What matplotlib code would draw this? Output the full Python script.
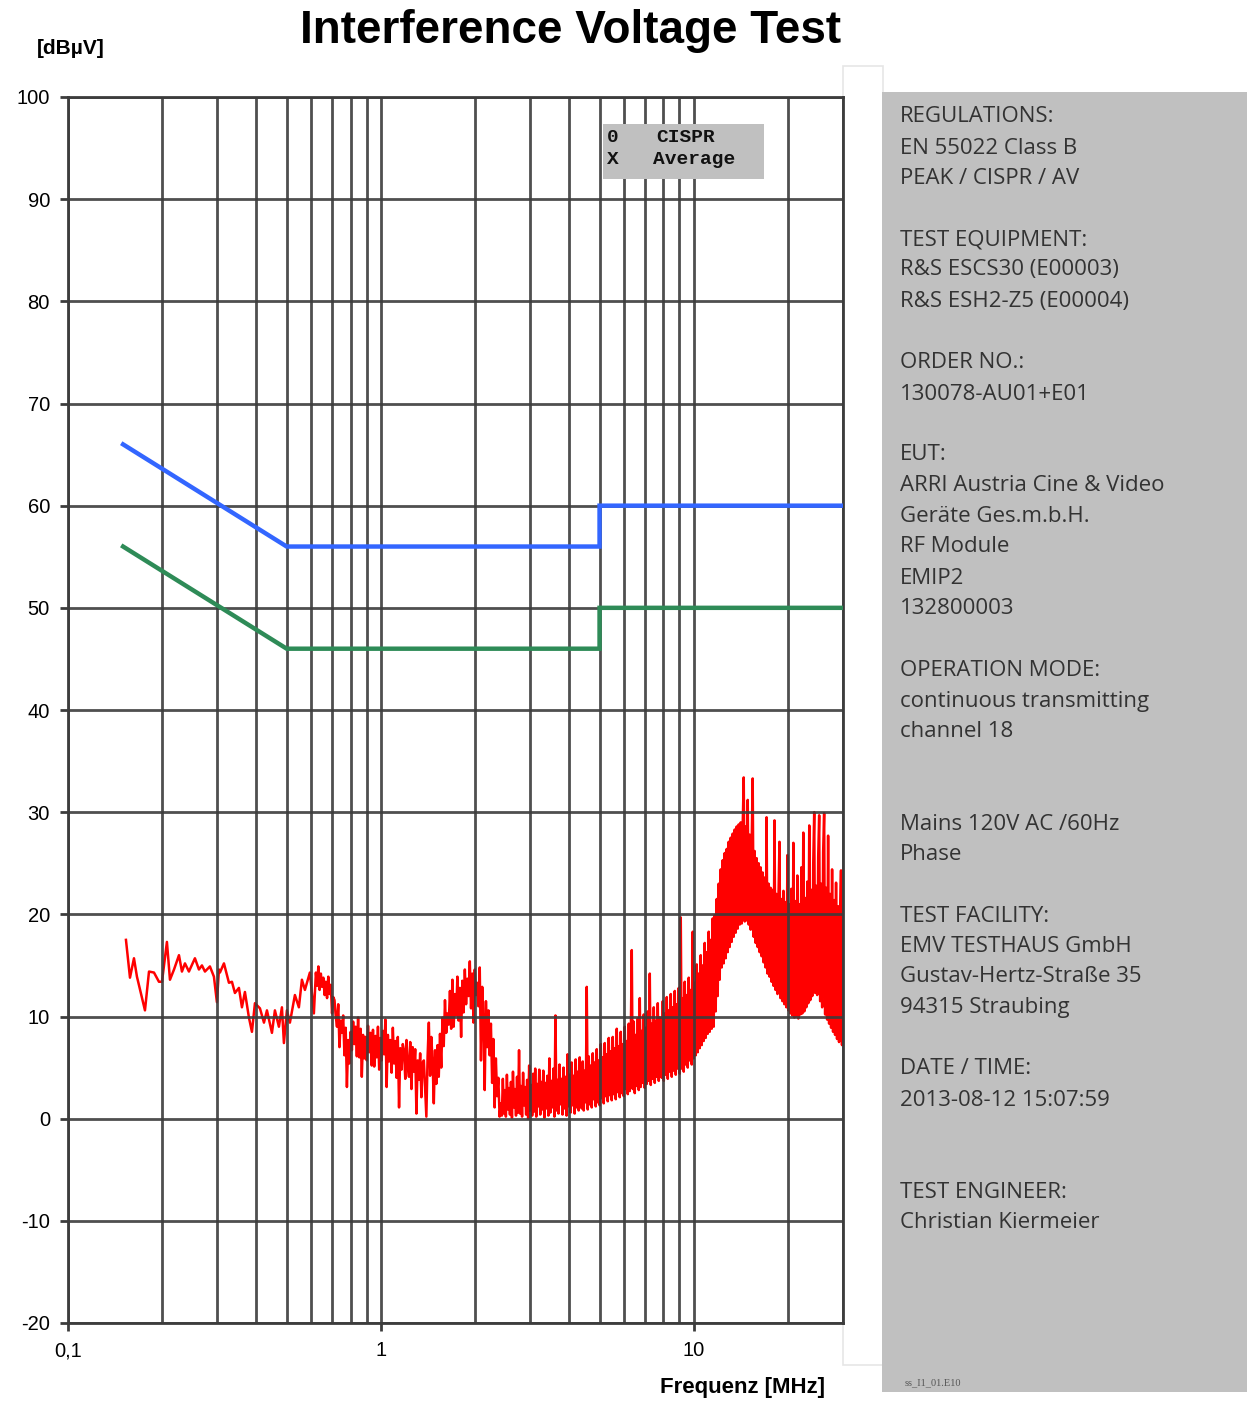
import numpy as np
import matplotlib
matplotlib.use("Agg")
import matplotlib.pyplot as plt
from matplotlib.patches import Rectangle

# ---------------- data ----------------
# EN 55022 Class B limit lines (frequency in MHz, level in dBuV)
limit_mhz = [0.15, 0.5, 5.0, 5.0, 30.0]
limit_peak_db = [66, 56, 56, 60, 60]
limit_avg_db = [56, 46, 46, 50, 50]

# Measured trace, first part (individual samples)
trace_low_mhz = [
    0.1532, 0.1578, 0.1625, 0.1661, 0.1762, 0.1815, 0.1883, 0.1953, 0.1997, 0.2071,
    0.2118, 0.2182, 0.2263, 0.2313, 0.2365, 0.2435, 0.2545, 0.2621, 0.2680, 0.2740,
    0.2842, 0.2927, 0.2992, 0.3037, 0.3059, 0.3151, 0.3269, 0.3342, 0.3416, 0.3518,
    0.3597, 0.3677, 0.3787, 0.3872, 0.3958, 0.4107, 0.4230, 0.4324, 0.4486, 0.4585,
    0.4722, 0.4828, 0.4899, 0.5008, 0.5120, 0.5312, 0.5470, 0.5593, 0.5718, 0.5931,
    0.6108,
]
trace_low_db = [
    17.5, 13.8, 15.7, 13.9, 10.6, 14.4, 14.3, 13.4, 13.4, 17.3,
    13.6, 14.6, 16.0, 14.4, 15.2, 14.4, 15.7, 14.6, 15.0, 14.4,
    14.9, 13.9, 11.4, 14.6, 14.3, 15.2, 13.3, 13.4, 12.3, 12.8,
    10.9, 12.4, 9.9, 8.5, 11.3, 10.8, 9.4, 10.6, 8.4, 10.6,
    9.0, 10.9, 7.4, 10.6, 9.4, 12.1, 10.9, 13.6, 12.6, 14.3,
    10.3,
]

# Measured trace, swept part: (start MHz, stop MHz) and levels in dBuV
sweep_0_mhz = (0.6199, 2.418)
sweep_0_db = [
    14.3, 13.0, 14.9, 12.6, 14.2, 12.9, 13.8, 12.1, 13.4, 11.8, 13.9, 12.2, 13.1,
    10.3, 11.9, 11.6, 10.0, 9.0, 11.2, 7.0, 9.6, 8.4, 10.1,
    6.2, 8.9, 3.1, 7.7, 5.4, 8.5, 6.7, 9.5,
    7.3, 9.0, 6.1, 9.9, 6.0, 8.8, 4.1, 8.2,
    5.9, 8.0, 5.7, 9.1, 6.5, 8.4, 5.2, 8.7,
    5.1, 8.1, 6.0, 9.0, 4.8, 7.9, 5.7, 8.6,
    6.3, 9.7, 3.1, 8.2, 5.6, 7.7, 4.5, 8.9,
    5.4, 7.6, 4.0, 8.0, 1.1, 6.9, 4.8, 7.3,
    6.7, 3.9, 7.7, 5.1, 4.1, 7.5, 2.9, 7.0,
    4.6, 6.8, 0.5, 5.7, 3.8, 6.4, 2.1, 5.5,
    5.7, 3.0, 0.2, 6.1, 9.4, 4.2, 8.0, 5.6,
    1.5, 6.7, 3.4, 7.2, 4.1, 8.3, 5.0, 9.9,
    7.1, 11.6, 8.4, 10.3, 9.2, 12.5, 8.8, 13.6,
    9.0, 12.2, 10.1, 13.9, 9.6, 12.8, 8.0, 13.5,
    10.4, 14.6, 11.2, 13.7, 12.0, 15.4, 10.8, 14.2,
    9.4, 14.6, 12.1, 13.3, 11.0, 14.8, 5.7, 12.9,
    9.8, 2.8, 11.5, 7.0, 10.6, 6.2, 9.3, 3.5,
    7.8, 1.1, 5.9, 2.2, 4.0, 0.2,
]
sweep_a_mhz = (2.418, 4.386)
sweep_a_db = [
    1.5, 0.3, 3.9, 0.5, 2.8, 0.2, 4.3, 0.9, 3.0, 0.4,
    3.6, 0.1, 4.6, 1.1, 2.9, 0.3, 4.1, 0.6, 6.7, 0.5,
    3.2, 0.2, 4.5, 1.3, 3.1, 0.4, 3.8, 0.0, 5.2, 0.8,
    3.3, 0.3, 4.4, 0.7, 4.9, 0.2, 3.4, 1.2, 4.8, 0.4,
    3.6, 0.9, 4.7, 0.1, 3.5, 1.0, 4.2, 0.3, 5.9, 0.6,
    3.7, 1.1, 4.9, 0.2, 10.1, 0.8, 3.8, 0.5, 5.3, 1.4,
    3.9, 0.4, 5.0, 1.0, 4.1, 0.3, 6.3, 1.2, 4.3, 0.6,
    5.5, 1.3, 4.2, 0.5, 5.8, 1.1, 4.6, 0.8, 6.0, 1.5,
]
sweep_b_mhz = (4.386, 7.905)
sweep_b_db = [
    1.0, 5.6, 0.8, 4.7, 1.6, 12.9, 0.9, 6.1, 1.4, 5.2,
    1.1, 6.4, 1.9, 5.5, 1.2, 6.8, 1.6, 5.7, 1.3, 7.3,
    2.0, 6.0, 1.5, 7.4, 2.2, 6.3, 1.7, 7.9, 2.3, 6.6,
    1.8, 8.0, 2.4, 6.9, 1.9, 8.8, 2.6, 7.1, 2.1, 8.5,
    2.5, 7.3, 2.2, 9.0, 2.9, 7.6, 2.4, 9.3, 2.7, 7.9,
    16.5, 2.9, 9.5, 2.5, 8.2, 3.2, 9.8, 2.8, 11.8, 3.1,
    8.6, 3.5, 10.2, 3.0, 8.9, 3.4, 10.5, 3.7, 14.2, 3.3,
    9.3, 3.9, 10.9, 3.5, 9.6, 4.1, 11.3, 3.7, 9.9, 4.2,
]
sweep_c_mhz = (7.905, 11.67)
sweep_c_db = [
    4.0, 11.5, 3.7, 10.3, 4.3, 11.9, 3.9, 10.6, 4.6, 12.2,
    4.1, 10.9, 4.7, 12.5, 4.3, 11.2, 4.9, 12.8, 4.4, 19.7,
    4.9, 11.8, 4.6, 13.4, 5.3, 12.1, 5.0, 13.8, 5.7, 12.6,
    5.3, 18.3, 5.9, 13.3, 6.2, 15.1, 6.5, 14.2, 6.9, 16.0,
    7.2, 15.0, 7.6, 17.2, 7.9, 16.3, 8.3, 18.3, 8.5, 17.5,
    8.8, 19.6, 9.0,
]
sweep_d_mhz = (11.67, 14.77)
sweep_d_db = [
    19.9, 10.5, 21.5, 12.0, 23.0, 13.6, 24.4, 14.8, 25.3, 15.2,
    26.0, 15.7, 26.4, 16.3, 27.1, 16.8, 27.5, 17.3, 27.9, 17.8,
    28.3, 18.2, 28.6, 18.6, 28.8, 19.0, 29.0, 19.1, 28.7, 33.4,
    19.3, 28.6,
]
sweep_e_mhz = (14.77, 30.0)
sweep_e_db = [
    19.4, 31.2, 19.0, 27.8, 18.5, 27.0, 33.3, 17.8, 26.2, 17.2,
    25.5, 16.8, 25.0, 16.3, 24.6, 15.9, 24.1, 15.3, 23.6, 14.8,
    29.5, 14.2, 23.0, 13.9, 22.6, 13.4, 22.4, 13.0, 29.2, 12.6,
    22.0, 12.2, 21.7, 27.1, 11.8, 21.5, 11.5, 22.3, 11.2, 21.2,
    10.9, 25.8, 10.6, 21.0, 10.3, 22.5, 10.1, 27.0, 9.9, 21.3,
    10.0, 23.8, 9.8, 21.0, 10.2, 24.6, 10.3, 28.0, 10.5, 21.6,
    10.9, 23.2, 11.3, 28.7, 11.6, 22.4, 12.0, 24.9, 30.0, 12.3,
    22.8, 12.1, 25.6, 29.7, 11.5, 23.0, 10.9, 26.1, 29.9, 10.2,
    22.6, 9.7, 27.7, 9.3, 22.0, 8.9, 24.4, 8.5, 21.4, 8.2,
    23.1, 7.8, 20.8, 7.5, 19.9, 24.3, 7.2, 19.4,
]

y_ticks = [-20, -10, 0, 10, 20, 30, 40, 50, 60, 70, 80, 90, 100]
x_major = [0.1, 1, 10]
x_major_labels = ["0,1", "1", "10"]
x_minor = [0.2, 0.3, 0.4, 0.5, 0.6, 0.7, 0.8, 0.9,
           2, 3, 4, 5, 6, 7, 8, 9, 20, 30]

info_lines = [
    ("REGULATIONS:", 116), ("EN 55022 Class B", 148), ("PEAK / CISPR / AV", 178),
    ("TEST EQUIPMENT:", 240), ("R&S ESCS30 (E00003)", 270), ("R&S ESH2-Z5 (E00004)", 302),
    ("ORDER NO.:", 362), ("130078-AU01+E01", 394),
    ("EUT:", 455), ("ARRI Austria Cine & Video", 486), ("Geräte Ges.m.b.H.", 516),
    ("RF Module", 546), ("EMIP2", 578), ("132800003", 608),
    ("OPERATION MODE:", 670), ("continuous transmitting", 701), ("channel 18", 732),
    ("Mains 120V AC /60Hz", 824), ("Phase", 854),
    ("TEST FACILITY:", 916), ("EMV TESTHAUS GmbH", 946),
    ("Gustav-Hertz-Straße 35", 977), ("94315 Straubing", 1008),
    ("DATE / TIME:", 1068), ("2013-08-12 15:07:59", 1100),
    ("TEST ENGINEER:", 1192), ("Christian Kiermeier", 1222),
]

# ---------------- assemble sweep ----------------
freq_parts = [np.array(trace_low_mhz)]
level_parts = [np.array(trace_low_db)]
for (f0, f1), lv in [(sweep_0_mhz, sweep_0_db), (sweep_a_mhz, sweep_a_db),
                     (sweep_b_mhz, sweep_b_db), (sweep_c_mhz, sweep_c_db),
                     (sweep_d_mhz, sweep_d_db)]:
    freq_parts.append(np.geomspace(f0, f1, len(lv), endpoint=False))
    level_parts.append(np.array(lv))
freq_parts.append(np.geomspace(sweep_e_mhz[0], sweep_e_mhz[1], len(sweep_e_db)))
level_parts.append(np.array(sweep_e_db))
trace_mhz = np.concatenate(freq_parts)
trace_db = np.concatenate(level_parts)

# ---------------- figure ----------------
W, H = 1254, 1401
fig = plt.figure(figsize=(W / 100, H / 100), dpi=100)
fig.patch.set_facecolor("white")


def fx(px):
    return px / W


def fy(py):
    return 1 - py / H


# blank frame strip between chart and info panel
fig.add_artist(Rectangle((fx(843), fy(1365)), fx(40), (1365 - 66) / H,
                         transform=fig.transFigure, facecolor="white",
                         edgecolor="#e6e6e6", lw=1.2, zorder=0))

ax = fig.add_axes([fx(68), fy(1323), fx(843 - 68), (1323 - 97) / H])
ax.set_xscale("log")
ax.set_xlim(0.1, 30)
ax.set_ylim(-20, 100)

ax.plot(trace_mhz, trace_db, color="#ff0000", lw=1.8, zorder=2,
        solid_joinstyle="round")
ax.plot(limit_mhz, limit_peak_db, color="#3366ff", lw=3.2, zorder=3,
        solid_joinstyle="miter")
ax.plot(limit_mhz, limit_avg_db, color="#2e8b57", lw=3.2, zorder=3,
        solid_joinstyle="miter")

ax.set_yticks(y_ticks)
ax.set_yticklabels([str(v) for v in y_ticks])
ax.set_xticks(x_major)
ax.set_xticklabels(x_major_labels)
ax.set_xticks(x_minor, minor=True)
ax.set_xticklabels([], minor=True)
ax.set_axisbelow(False)
ax.grid(True, which="both", axis="x", color="#3c3c3c", lw=2.0, alpha=0.9)
ax.grid(True, which="major", axis="y", color="#3c3c3c", lw=2.0, alpha=0.9)
for s in ax.spines.values():
    s.set_color("#3c3c3c")
    s.set_linewidth(2.0)
ax.tick_params(axis="both", which="major", length=6, width=2, color="#3c3c3c",
               labelsize=14.5, pad=7)
ax.tick_params(axis="x", which="minor", length=0)
for lab in ax.get_xticklabels() + ax.get_yticklabels():
    lab.set_fontfamily("Liberation Sans")

# legend box
fig.add_artist(Rectangle((fx(603), fy(179)), fx(161), 55 / H,
                         transform=fig.transFigure, facecolor="#c0c0c0",
                         edgecolor="none", zorder=5))
mono = dict(family="Liberation Mono", fontsize=14, fontweight="bold",
            color="#111111", va="center", zorder=6)
fig.text(fx(607), fy(138), "0", **mono)
fig.text(fx(656), fy(138), "CISPR", **mono)
fig.text(fx(607), fy(160), "X", **mono)
fig.text(fx(653), fy(160), "Average", **mono)

# titles
fig.text(fx(571), fy(31), "Interference Voltage Test", ha="center", va="center",
         family="Liberation Sans", fontweight="bold", fontsize=33, color="black")
fig.text(fx(71), fy(48), "[dBµV]", ha="center", va="center",
         family="Liberation Sans", fontweight="bold", fontsize=15)
fig.text(fx(743), fy(1388), "Frequenz [MHz]", ha="center", va="center",
         family="Liberation Sans", fontweight="bold", fontsize=16)

# information panel
fig.add_artist(Rectangle((fx(882), fy(1392)), fx(1247 - 882), (1392 - 92) / H,
                         transform=fig.transFigure, facecolor="#c0c0c0",
                         edgecolor="none", zorder=1))
for txt, py in info_lines:
    fig.text(fx(900), fy(py), txt, ha="left", va="center", family="Open Sans",
             fontsize=16, color="#333333", zorder=2)
fig.text(fx(905), fy(1383), "ss_I1_01.E10", ha="left", va="center",
         family="Liberation Serif", fontsize=7.5, color="#555555", zorder=2)

fig.savefig("out.png", dpi=100, facecolor="white")
